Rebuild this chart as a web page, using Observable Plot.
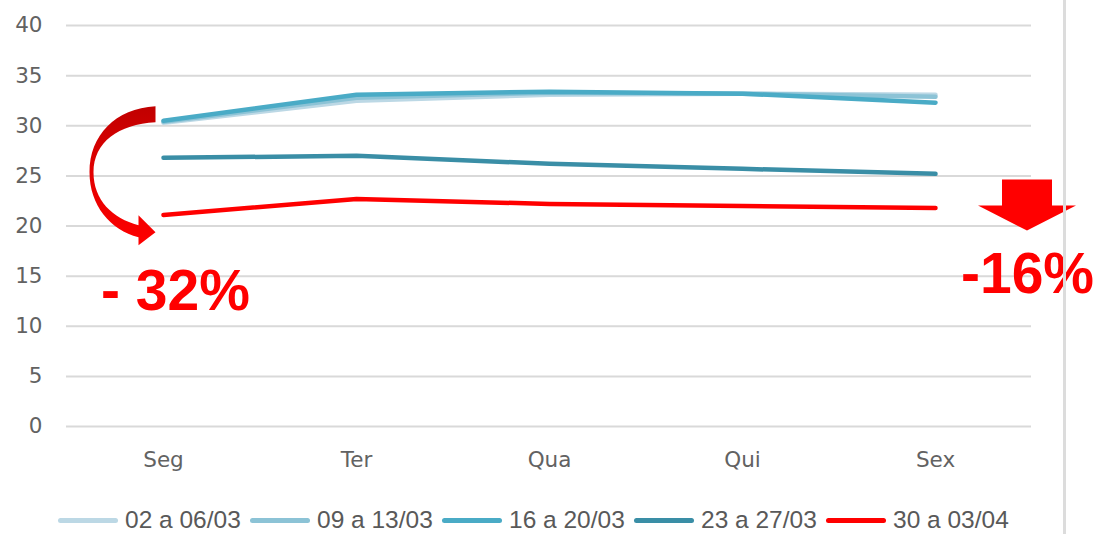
<!DOCTYPE html>
<html>
<head>
<meta charset="utf-8">
<script src="https://cdn.jsdelivr.net/npm/d3@7"></script>
<script src="https://cdn.jsdelivr.net/npm/@observablehq/plot@0.6"></script>
<style>
  html, body { margin: 0; padding: 0; background: #fff; }
  #wrap { position: relative; width: 1096px; height: 534px; overflow: hidden; }
  #border { position: absolute; left: 1063px; top: 0; width: 3px; height: 534px; background: #dcdcdc; }
  #legend { position: absolute; left: 0; top: 503px; width: 1066px; height: 34px;
    display: flex; justify-content: center; align-items: center;
    font-family: "Liberation Sans", Arial, sans-serif; font-size: 24.5px; color: #595959; }
  .item { display: flex; align-items: center; width: 192px; }
  .item:last-child { width: 182px; }
  .sw { width: 60px; height: 5px; border-radius: 2.5px; margin-right: 7px; flex: none; }
  .item span { white-space: nowrap; }
</style>
</head>
<body>
<div id="wrap">
  <div id="chart"></div>
  <div id="legend"></div>
  <div id="border"></div>
</div>
<script>
const days = ["Seg", "Ter", "Qua", "Qui", "Sex"];
const weeks = ["02 a 06/03", "09 a 13/03", "16 a 20/03", "23 a 27/03", "30 a 03/04"];
const s1 = [30.3, 32.5, 33.1, 33.2, 33.1];
const s2 = [30.4, 32.8, 33.3, 33.2, 32.9];
const s3 = [30.5, 33.1, 33.4, 33.2, 32.3];
const s4 = [26.8, 27.0, 26.2, 25.7, 25.2];
const s5 = [21.1, 22.7, 22.2, 22.0, 21.8];
const colors = ["#bcd8e5", "#8cc3d6", "#4aabc6", "#3a8ea6", "#ff0000"];
const yTicks = [0, 5, 10, 15, 20, 25, 30, 35, 40];
const noteLeft = [{day: "Seg", value: 13.4, label: "- 32%"}];
const noteRight = [{day: "Sex", value: 15.1, label: "-16%"}];

const series = [s1, s2, s3, s4, s5];
const rows = series.flatMap((vals, i) => vals.map((v, j) => ({week: weeks[i], day: days[j], value: v})));

const noteStyle = {x: "day", y: "value", text: "label", fill: "#ff0000",
  fontSize: 57, fontWeight: "bold", fontFamily: "'Liberation Sans', Arial, sans-serif",
  textAnchor: "middle", lineAnchor: "middle"};

const plot = Plot.plot({
  width: 1096,
  height: 500,
  marginLeft: 66,
  marginRight: 65,
  marginTop: 25,
  marginBottom: 74,
  style: {fontFamily: "'DejaVu Sans', sans-serif", fontSize: "21.5px", color: "#626262", background: "#fff", overflow: "visible"},
  x: {type: "point", domain: days, padding: 0.5, label: null, tickSize: 0, tickPadding: 25},
  y: {domain: [0, 40], ticks: yTicks, label: null, tickSize: 0, tickPadding: 24},
  color: {domain: weeks, range: colors},
  marks: [
    Plot.ruleY(yTicks, {stroke: "#d9d9d9", strokeWidth: 2}),
    Plot.line(rows, {x: "day", y: "value", z: "week", stroke: "week", strokeWidth: 4.5,
      strokeLinecap: "round", strokeLinejoin: "round"}),
    Plot.text(noteLeft, {...noteStyle, dx: 12}),
    Plot.text(noteRight, {...noteStyle, dx: 92})
  ]
});
document.getElementById("chart").appendChild(plot);

const xs = plot.scale("x"), ys = plot.scale("y");
const NS = "http://www.w3.org/2000/svg";

// curved arrow next to Seg
const ax = xs.apply("Seg") - 7.5;        // tail x
const yTop = ys.apply(s3[0]) - 14;       // tail top
const defs = document.createElementNS(NS, "defs");
defs.innerHTML = `<linearGradient id="rg" x1="0" y1="0" x2="0" y2="1">
  <stop offset="0" stop-color="#c00000"/><stop offset="0.45" stop-color="#e00000"/><stop offset="1" stop-color="#ff0000"/></linearGradient>`;
plot.appendChild(defs);
const p = (dx, dy) => `${ax + dx},${yTop + dy}`;
const curve = document.createElementNS(NS, "path");
curve.setAttribute("d",
  `M${p(0,0)} C${p(-40,2)} ${p(-66,29)} ${p(-66,66)}` +
  ` C${p(-66,99)} ${p(-45,124)} ${p(-17,131)}` +
  ` L${p(-17,139)} L${p(0,126)} L${p(-17,109)} L${p(-17,119)}` +
  ` C${p(-43,112)} ${p(-62,94)} ${p(-62,66)}` +
  ` C${p(-62,36)} ${p(-37,18)} ${p(0,16)} Z`);
curve.setAttribute("fill", "url(#rg)");
plot.appendChild(curve);

// down arrow near Sex
const cx = xs.apply("Sex") + 92;
const aTop = ys.apply(24.6), aMid = ys.apply(22), aTip = ys.apply(19.5);
const down = document.createElementNS(NS, "path");
down.setAttribute("d",
  `M${cx-25},${aTop} L${cx+25},${aTop} L${cx+25},${aMid} L${cx+49},${aMid} L${cx},${aTip} L${cx-49},${aMid} L${cx-25},${aMid} Z`);
down.setAttribute("fill", "#ff0000");
plot.appendChild(down);

// legend
const legend = document.getElementById("legend");
weeks.forEach((w, i) => {
  const it = document.createElement("div");
  it.className = "item";
  it.innerHTML = `<div class="sw" style="background:${colors[i]}"></div><span>${w}</span>`;
  legend.appendChild(it);
});
</script>
</body>
</html>
